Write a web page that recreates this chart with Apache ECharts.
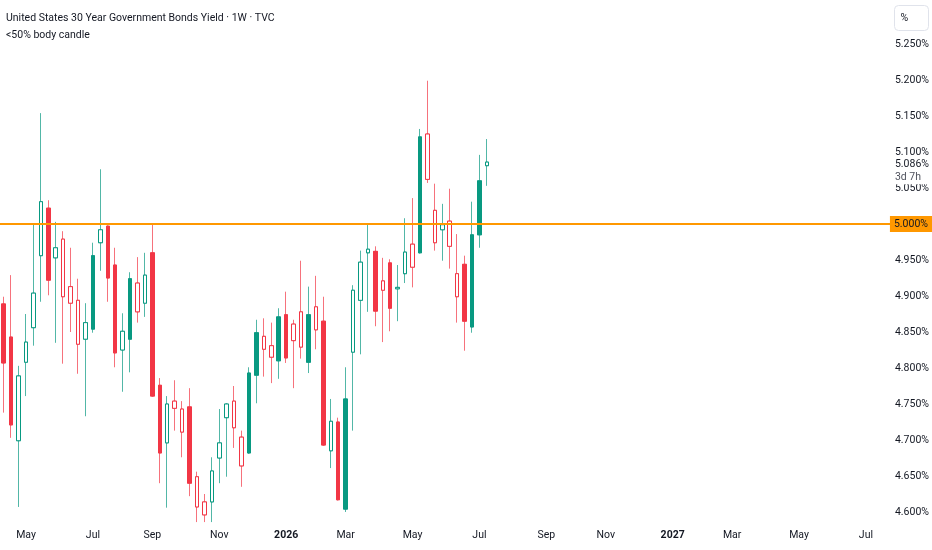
<!DOCTYPE html>
<html>
<head>
<meta charset="utf-8">
<script src="https://cdn.jsdelivr.net/npm/echarts@6/dist/echarts.min.js"></script>
<style>
html,body{margin:0;padding:0;background:#ffffff;}
#chart{width:932px;height:550px;}
</style>
</head>
<body>
<div id="chart"></div>
<script>
// ---------- data (weekly candles, week starting Monday) ----------
const firstWeek = [2025, 3, 14];      // 2025-04-14 (year, monthIndex, day)
const totalWeeks = 120;               // categories shown on the axis (incl. future empty weeks)

const opens = [4.889,4.843,4.699,4.808,4.856,4.956,5.022,4.953,4.979,4.913,
  4.894,4.840,4.854,4.974,4.997,4.943,4.825,4.840,4.918,4.890,
  4.960,4.776,4.696,4.754,4.743,4.746,4.649,4.614,4.614,4.675,
  4.731,4.754,4.704,4.682,4.790,4.844,4.831,4.810,4.874,4.861,
  4.878,4.808,4.885,4.865,4.685,4.725,4.604,4.822,4.894,4.960,
  4.962,4.921,4.946,4.910,4.931,4.972,4.960,5.125,5.019,4.992,
  5.004,4.931,4.944,4.857,4.985,5.081];
const closes = [4.807,4.721,4.789,4.836,4.904,5.031,4.922,4.967,4.899,4.890,
  4.833,4.863,4.956,4.992,4.925,4.821,4.851,4.924,4.878,4.929,
  4.761,4.682,4.750,4.744,4.711,4.640,4.607,4.596,4.657,4.696,
  4.750,4.717,4.664,4.793,4.849,4.826,4.815,4.871,4.814,4.838,
  4.829,4.874,4.853,4.693,4.726,4.617,4.757,4.908,4.947,4.965,
  4.879,4.908,4.883,4.912,4.961,4.940,5.121,5.062,4.974,4.999,
  4.969,4.899,4.865,4.985,5.060,5.086];
const lows = [4.738,4.703,4.607,4.761,4.831,4.892,4.901,4.835,4.806,4.850,
  4.792,4.733,4.849,4.935,4.892,4.801,4.767,4.794,4.863,4.871,
  4.760,4.640,4.606,4.713,4.676,4.622,4.586,4.586,4.586,4.640,
  4.649,4.689,4.635,4.681,4.751,4.788,4.779,4.785,4.807,4.772,
  4.813,4.793,4.826,4.692,4.661,4.616,4.600,4.713,4.819,4.878,
  4.858,4.836,4.851,4.865,4.918,4.912,4.959,5.057,4.963,4.949,
  4.938,4.863,4.824,4.849,4.967,5.053];
const highs = [4.899,4.929,4.803,4.875,4.999,5.154,5.033,5.003,4.990,4.967,
  4.924,4.890,4.974,5.076,4.998,4.967,4.876,4.933,4.954,4.960,
  5.000,4.786,4.761,4.783,4.754,4.772,4.656,4.625,4.676,4.743,
  4.751,4.775,4.713,4.801,4.867,4.869,4.863,4.883,4.906,4.867,
  4.949,4.913,4.928,4.899,4.757,4.731,4.801,4.915,4.963,4.999,
  4.969,4.953,4.951,4.943,5.008,5.036,5.132,5.199,5.056,5.028,
  5.049,4.986,4.956,5.031,5.096,5.118];
// 1 = hollow candle (body < 50% of range), 0 = filled candle
const hollow = [0,0,1,1,1,1,0,1,1,1,
  1,1,0,1,0,0,1,0,1,1,
  0,0,1,1,1,0,1,1,1,1,
  1,1,1,0,0,1,1,0,0,1,
  1,0,1,0,1,0,0,1,1,1,
  0,1,0,1,1,1,0,1,1,1,
  1,1,0,0,0,1];

const levelPrice = 5.000;     // horizontal level
const lastPrice = 5.086;      // last close label
const countdown = '3d 7h';
const monthNames = ['Jan','Feb','Mar','Apr','May','Jun','Jul','Aug','Sep','Oct','Nov','Dec'];
const titleText = 'United States 30 Year Government Bonds Yield · 1W · TVC';
const subtitleText = '<50% body candle';
const unitText = '%';

// ---------- build ----------
const FONT = 'Roboto, "Noto Sans", sans-serif';
const UP = '#089981', DOWN = '#F23645';
const TXT = '#131722';

const categories = [];
const t0 = Date.UTC(firstWeek[0], firstWeek[1], firstWeek[2]);
for (let i = 0; i < totalWeeks; i++) {
  categories.push(new Date(t0 + i * 7 * 86400000).toISOString().slice(0, 10));
}

const wickData = opens.map((o, i) => [o, closes[i], lows[i], highs[i]]);
const bodyData = opens.map((o, i) => {
  const c = closes[i];
  const item = { value: [o, c, Math.min(o, c), Math.max(o, c)] };
  if (hollow[i]) item.itemStyle = { color: '#ffffff', color0: '#ffffff' };
  return item;
});

const chart = echarts.init(document.getElementById('chart'), null, { renderer: 'canvas' });
chart.setOption({
  animation: false,
  backgroundColor: '#ffffff',
  textStyle: { fontFamily: FONT },
  title: {
    text: titleText,
    subtext: subtitleText,
    left: 1, top: 7, itemGap: 4, padding: 5,
    textStyle: { fontFamily: FONT, fontSize: 10.5, fontWeight: 'normal', color: TXT, lineHeight: 13 },
    subtextStyle: { fontFamily: FONT, fontSize: 10.5, color: TXT, lineHeight: 13 }
  },
  grid: { left: -3, right: 39, top: 0, bottom: 2, containLabel: false },
  xAxis: {
    type: 'category',
    data: categories,
    boundaryGap: true,
    offset: -26,
    axisLine: { show: false },
    axisTick: { show: false },
    splitLine: { show: false },
    axisLabel: {
      margin: 8,
      fontSize: 10.5,
      color: TXT,
      fontFamily: FONT,
      interval: function (index, value) {
        const d = new Date(value + 'T00:00:00Z');
        return d.getUTCDate() <= 7 && d.getUTCMonth() % 2 === 0;
      },
      formatter: function (value) {
        const d = new Date(value + 'T00:00:00Z');
        const m = d.getUTCMonth();
        return m === 0 ? '{y|' + d.getUTCFullYear() + '}' : monthNames[m];
      },
      rich: { y: { fontSize: 10.5, fontWeight: 'bold', color: TXT, fontFamily: FONT } }
    }
  },
  yAxis: {
    type: 'value',
    position: 'right',
    min: 4.55,
    max: 5 + 224 / 720,
    interval: 0.05,
    axisLine: { show: false },
    axisTick: { show: false },
    splitLine: { show: false },
    axisLabel: {
      margin: 3,
      fontSize: 10.5,
      color: TXT,
      fontFamily: FONT,
      showMinLabel: false,
      showMaxLabel: false,
      formatter: function (v) {
        if (v < 4.59 || v > 5.26) return '';
        return v.toFixed(3) + '%';
      }
    }
  },
  series: [
    {
      name: 'wicks',
      type: 'candlestick',
      barWidth: 4,
      data: wickData,
      silent: true,
      itemStyle: {
        color: 'rgba(0,0,0,0)', color0: 'rgba(0,0,0,0)',
        borderColor: 'rgba(8,153,129,0.7)', borderColor0: 'rgba(242,54,69,0.7)',
        borderWidth: 1
      }
    },
    {
      name: 'bodies',
      type: 'candlestick',
      barWidth: 4,
      data: bodyData,
      z: 3,
      itemStyle: {
        color: UP, color0: DOWN,
        borderColor: UP, borderColor0: DOWN,
        borderWidth: 1
      },
      markLine: {
        symbol: 'none',
        silent: true,
        animation: false,
        data: [
          {
            yAxis: levelPrice,
            lineStyle: { color: '#FF9800', width: 2, type: 'solid' },
            label: {
              show: true, position: 'end', distance: -2,
              formatter: levelPrice.toFixed(3) + '%',
              backgroundColor: '#FF9800', color: TXT,
              fontFamily: FONT, fontSize: 10.5, padding: [3, 4, 2, 4]
            }
          },
          {
            yAxis: lastPrice,
            lineStyle: { color: 'rgba(0,0,0,0)', width: 1 },
            label: {
              show: true, position: 'end', distance: 1,
              formatter: '{p|' + lastPrice.toFixed(3) + '%}\n{c|' + countdown + '}',
              padding: [24, 0, 0, 0],
              rich: {
                p: { fontFamily: FONT, fontSize: 10.5, color: TXT, lineHeight: 14,
                     backgroundColor: '#ffffff', width: 36, padding: [1, 0, 0, 2] },
                c: { fontFamily: FONT, fontSize: 10.5, color: '#50535e', lineHeight: 14,
                     backgroundColor: '#ffffff', width: 36, padding: [0, 0, 1, 2] }
              }
            }
          }
        ]
      }
    }
  ],
  graphic: [
    {
      type: 'group', left: 894, top: 5,
      children: [
        { type: 'rect', shape: { x: 0, y: 0, width: 34, height: 25, r: 4 },
          style: { fill: '#ffffff', stroke: '#e0e3eb', lineWidth: 1 } },
        { type: 'text', x: 6, y: 12.5,
          style: { text: unitText, fontFamily: FONT, fontSize: 10.5, fill: TXT, verticalAlign: 'middle' } }
      ]
    }
  ]
});
</script>
</body>
</html>
